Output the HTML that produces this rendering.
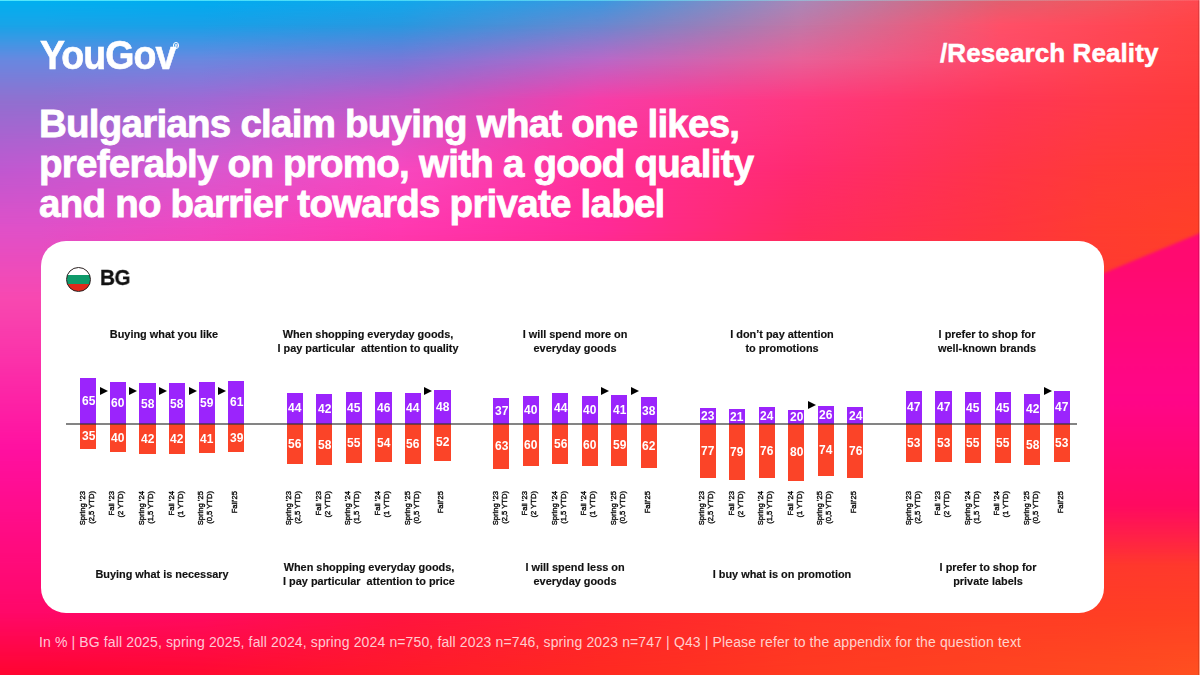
<!DOCTYPE html>
<html><head><meta charset="utf-8">
<style>
html,body{margin:0;padding:0;}
body{width:1200px;height:675px;overflow:hidden;position:relative;font-family:"Liberation Sans",sans-serif;-webkit-font-smoothing:antialiased;}
.tt,.bt,.lab,#bgt,.bp span,.br span{will-change:transform;}
#bg{position:absolute;left:0;top:0;width:1200px;height:675px;}
.bgr{position:absolute;left:0;top:0;width:1200px;height:675px;}
#mag{position:absolute;left:1080px;top:200px;width:130px;height:380px;filter:blur(1.5px);}
#magi{position:absolute;left:0;top:0;width:130px;height:380px;clip-path:polygon(0 83px,130px 28.8px,130px 380px,0 380px);
background:linear-gradient(180deg,#ff0a70 70px,#ff0588 200px,#ff0a60 305px,rgba(255,40,56,0) 365px);}
#edgeR{position:absolute;left:1198px;top:0;width:1px;height:675px;background:rgba(0,0,0,0.12);}
#edgeR:after{content:'';position:absolute;left:1px;top:0;width:1px;height:675px;background:rgba(255,255,255,0.45);}
#edgeT{position:absolute;left:0;top:0;width:1200px;height:1px;background:linear-gradient(90deg,rgba(120,255,255,0.7),rgba(120,255,255,0.5) 50%,rgba(255,255,255,0.1));}
.abs{position:absolute;}
#logo{position:absolute;left:39.5px;top:31px;font-size:41px;font-weight:bold;color:#fff;letter-spacing:-1px;line-height:48px;transform-origin:0 0;transform:scaleX(0.915);-webkit-text-stroke:0.6px #fff;white-space:nowrap;}
#reg{position:absolute;left:172.8px;top:42.3px;width:4.4px;height:4.4px;border:0.8px solid #fff;border-radius:50%;}
#reg:after{content:'R';position:absolute;left:0;top:0;width:5px;line-height:5px;font-size:4px;font-weight:bold;color:#fff;text-align:center;}
#rr{position:absolute;left:940px;top:38px;font-size:26px;font-weight:bold;color:#fff;line-height:30px;letter-spacing:0.1px;white-space:nowrap;-webkit-text-stroke:0.5px #fff;}
#title{position:absolute;left:39px;top:104px;font-size:38.5px;font-weight:bold;color:#fff;line-height:40.2px;white-space:nowrap;letter-spacing:-0.75px;-webkit-text-stroke:0.8px #fff;}
#card{position:absolute;left:40.5px;top:241.2px;width:1063.3px;height:372.3px;background:#fff;border-radius:25px;}
#flag{position:absolute;left:65.5px;top:266.8px;width:25.5px;height:25.5px;border-radius:50%;overflow:hidden;border:0.9px solid #2a2020;box-sizing:border-box;
background:linear-gradient(#fff 0%,#fff 30%,#0e9a6a 30%,#0e9a6a 69.5%,#e0281a 69.5%,#e0281a 100%);}
#bgt{position:absolute;left:99.5px;top:265.2px;font-size:22.5px;font-weight:bold;color:#111;line-height:26px;letter-spacing:-0.6px;transform-origin:0 0;transform:scaleX(0.92);-webkit-text-stroke:0.3px #111;}
#zero{position:absolute;left:66px;top:423.3px;width:1011px;height:1.4px;background:rgba(50,50,50,0.6);z-index:3;}
.bp,.br{position:absolute;width:16.2px;display:flex;align-items:center;justify-content:center;}
.bp{background:#9b24fc;}
.br{background:#fb4428;}
.bp span,.br span{color:#fff;font-weight:bold;font-size:12px;line-height:12px;}
.lab{position:absolute;width:60px;text-align:right;white-space:nowrap;transform-origin:0 0;transform:rotate(-90deg);font-size:7.6px;line-height:8.6px;color:#000;-webkit-text-stroke:0.3px #000;}
.tt,.bt{position:absolute;width:220px;text-align:center;font-size:10.9px;font-weight:bold;color:#111;line-height:13.5px;white-space:nowrap;-webkit-text-stroke:0.15px #111;}
.ar{position:absolute;width:0;height:0;border-top:4px solid transparent;border-bottom:4px solid transparent;border-left:8px solid #000;}
#foot{position:absolute;left:39px;top:630px;font-size:14px;color:rgba(255,255,255,0.78);line-height:24px;white-space:nowrap;letter-spacing:0.13px;}
</style></head><body>
<div id="bg"><div class="bgr" style="background:linear-gradient(90deg,#00b0f0 0.00%,#00b0f0 3.33%,#00acf0 16.67%,#10a8ec 33.33%,#3a98e0 50.00%,#a888b8 66.67%,#e06070 83.33%,#f05860 91.67%,#ff4850 100.00%)"></div><div class="bgr" style="background:linear-gradient(90deg,#18a4e8 0.00%,#18a4e8 3.33%,#18a0e8 16.67%,#2898e0 33.33%,#6888d0 50.00%,#c078a8 66.67%,#ff5068 83.33%,#ff4858 91.67%,#ff4444 100.00%);-webkit-mask-image:linear-gradient(180deg,transparent 0px,#000 25px);mask-image:linear-gradient(180deg,transparent 0px,#000 25px)"></div><div class="bgr" style="background:linear-gradient(90deg,#6888e0 0.00%,#6888e0 3.33%,#6a88e0 16.67%,#7878d8 33.33%,#b868c8 50.00%,#e86098 66.67%,#ff4868 83.33%,#ff4450 91.67%,#ff4040 100.00%);-webkit-mask-image:linear-gradient(180deg,transparent 25px,#000 60px);mask-image:linear-gradient(180deg,transparent 25px,#000 60px)"></div><div class="bgr" style="background:linear-gradient(90deg,#9070d0 0.00%,#9070d0 3.33%,#a068d4 16.67%,#c058c8 33.33%,#f83ca8 50.00%,#ff3880 66.67%,#ff3658 83.33%,#ff3a48 91.67%,#ff3a3a 100.00%);-webkit-mask-image:linear-gradient(180deg,transparent 60px,#000 100px);mask-image:linear-gradient(180deg,transparent 60px,#000 100px)"></div><div class="bgr" style="background:linear-gradient(90deg,#c058d0 0.00%,#c458d0 3.33%,#d858d0 16.67%,#f848c0 33.33%,#ff3098 50.00%,#ff2a70 66.67%,#ff3448 83.33%,#ff3a38 91.67%,#ff3c30 100.00%);-webkit-mask-image:linear-gradient(180deg,transparent 100px,#000 170px);mask-image:linear-gradient(180deg,transparent 100px,#000 170px)"></div><div class="bgr" style="background:linear-gradient(90deg,#e050c8 0.00%,#e050c8 3.33%,#f048c0 16.67%,#ff38b0 33.33%,#ff2a98 50.00%,#ff2a60 66.67%,#ff3440 83.33%,#ff3c30 91.67%,#ff4028 100.00%);-webkit-mask-image:linear-gradient(180deg,transparent 170px,#000 230px);mask-image:linear-gradient(180deg,transparent 170px,#000 230px)"></div><div class="bgr" style="background:linear-gradient(90deg,#f848b0 0.00%,#f848b0 3.33%,#ff38a8 16.67%,#ff2a90 33.33%,#ff2a70 50.00%,#ff3050 66.67%,#ff3a30 83.33%,#ff3a30 91.67%,#ff3a30 100.00%);-webkit-mask-image:linear-gradient(180deg,transparent 230px,#000 300px);mask-image:linear-gradient(180deg,transparent 230px,#000 300px)"></div><div class="bgr" style="background:linear-gradient(90deg,#ff10a0 0.00%,#ff10a0 3.33%,#ff10a0 16.67%,#ff2a70 33.33%,#ff3050 50.00%,#ff3040 66.67%,#ff2a40 83.33%,#ff2a40 91.67%,#ff2a40 100.00%);-webkit-mask-image:linear-gradient(180deg,transparent 300px,#000 450px);mask-image:linear-gradient(180deg,transparent 300px,#000 450px)"></div><div class="bgr" style="background:linear-gradient(90deg,#ff0868 0.00%,#ff0868 3.33%,#ff0a60 16.67%,#ff1440 33.33%,#ff2430 50.00%,#ff3428 66.67%,#ff3c26 83.33%,#ff3e24 91.67%,#ff4024 100.00%);-webkit-mask-image:linear-gradient(180deg,transparent 450px,#000 613px);mask-image:linear-gradient(180deg,transparent 450px,#000 613px)"></div><div class="bgr" style="background:linear-gradient(90deg,#ff0530 0.00%,#ff0530 3.33%,#ff0a30 16.67%,#ff1a28 33.33%,#ff2a20 50.00%,#ff3a20 66.67%,#ff4420 83.33%,#ff4a20 91.67%,#ff5020 100.00%);-webkit-mask-image:linear-gradient(180deg,transparent 613px,#000 675px);mask-image:linear-gradient(180deg,transparent 613px,#000 675px)"></div><div id="mag"><div id="magi"></div></div><div id="edgeR"></div><div id="edgeT"></div></div>
<div id="logo">YouGov</div>
<div id="reg"></div>
<div id="rr">/Research Reality</div>
<div id="title">Bulgarians claim buying what one likes,<br>preferably on promo, with a good quality<br>and no barrier towards private label</div>
<div id="card"></div>
<div id="flag"></div>
<div id="bgt">BG</div>
<div class="bp" style="left:80.3px;top:378.0px;height:46.0px"><span>65</span></div>
<div class="br" style="left:80.3px;top:424px;height:24.7px"><span>35</span></div>
<div class="lab" style="left:78.9px;top:551.0px;height:17.2px">Spring ’23<br>(2,5 YTD)</div>
<div class="bp" style="left:109.8px;top:381.6px;height:42.4px"><span>60</span></div>
<div class="br" style="left:109.8px;top:424px;height:28.3px"><span>40</span></div>
<div class="lab" style="left:108.4px;top:551.0px;height:17.2px">Fall ’23<br>(2 YTD)</div>
<div class="bp" style="left:139.4px;top:383.0px;height:41.0px"><span>58</span></div>
<div class="br" style="left:139.4px;top:424px;height:29.7px"><span>42</span></div>
<div class="lab" style="left:138.0px;top:551.0px;height:17.2px">Spring ’24<br>(1,5 YTD)</div>
<div class="bp" style="left:168.9px;top:383.0px;height:41.0px"><span>58</span></div>
<div class="br" style="left:168.9px;top:424px;height:29.7px"><span>42</span></div>
<div class="lab" style="left:167.5px;top:551.0px;height:17.2px">Fall ’24<br>(1 YTD)</div>
<div class="bp" style="left:198.5px;top:382.3px;height:41.7px"><span>59</span></div>
<div class="br" style="left:198.5px;top:424px;height:29.0px"><span>41</span></div>
<div class="lab" style="left:197.1px;top:551.0px;height:17.2px">Spring ’25<br>(0,5 YTD)</div>
<div class="bp" style="left:228.1px;top:380.9px;height:43.1px"><span>61</span></div>
<div class="br" style="left:228.1px;top:424px;height:27.6px"><span>39</span></div>
<div class="lab" style="left:230.9px;top:551.0px;height:8.6px">Fall’25</div>
<div class="tt" style="left:53.9px;top:327.7px">Buying what you like</div>
<div class="bt" style="left:52.3px;top:568px">Buying what is necessary</div>
<div class="bp" style="left:286.7px;top:392.9px;height:31.1px"><span>44</span></div>
<div class="br" style="left:286.7px;top:424px;height:39.6px"><span>56</span></div>
<div class="lab" style="left:285.3px;top:551.0px;height:17.2px">Spring ’23<br>(2,5 YTD)</div>
<div class="bp" style="left:316.2px;top:394.3px;height:29.7px"><span>42</span></div>
<div class="br" style="left:316.2px;top:424px;height:41.0px"><span>58</span></div>
<div class="lab" style="left:314.9px;top:551.0px;height:17.2px">Fall ’23<br>(2 YTD)</div>
<div class="bp" style="left:345.8px;top:392.2px;height:31.8px"><span>45</span></div>
<div class="br" style="left:345.8px;top:424px;height:38.9px"><span>55</span></div>
<div class="lab" style="left:344.4px;top:551.0px;height:17.2px">Spring ’24<br>(1,5 YTD)</div>
<div class="bp" style="left:375.4px;top:391.5px;height:32.5px"><span>46</span></div>
<div class="br" style="left:375.4px;top:424px;height:38.2px"><span>54</span></div>
<div class="lab" style="left:374.0px;top:551.0px;height:17.2px">Fall ’24<br>(1 YTD)</div>
<div class="bp" style="left:404.9px;top:392.9px;height:31.1px"><span>44</span></div>
<div class="br" style="left:404.9px;top:424px;height:39.6px"><span>56</span></div>
<div class="lab" style="left:403.5px;top:551.0px;height:17.2px">Spring ’25<br>(0,5 YTD)</div>
<div class="bp" style="left:434.4px;top:390.1px;height:33.9px"><span>48</span></div>
<div class="br" style="left:434.4px;top:424px;height:36.8px"><span>52</span></div>
<div class="lab" style="left:437.4px;top:551.0px;height:8.6px">Fall’25</div>
<div class="tt" style="left:258.4px;top:327.7px">When shopping everyday goods,<br>I pay particular&nbsp; attention to quality</div>
<div class="bt" style="left:258.7px;top:561px">When shopping everyday goods,<br>I pay particular&nbsp; attention to price</div>
<div class="bp" style="left:493.1px;top:397.8px;height:26.2px"><span>37</span></div>
<div class="br" style="left:493.1px;top:424px;height:44.5px"><span>63</span></div>
<div class="lab" style="left:491.7px;top:551.0px;height:17.2px">Spring ’23<br>(2,5 YTD)</div>
<div class="bp" style="left:522.6px;top:395.7px;height:28.3px"><span>40</span></div>
<div class="br" style="left:522.6px;top:424px;height:42.4px"><span>60</span></div>
<div class="lab" style="left:521.2px;top:551.0px;height:17.2px">Fall ’23<br>(2 YTD)</div>
<div class="bp" style="left:552.2px;top:392.9px;height:31.1px"><span>44</span></div>
<div class="br" style="left:552.2px;top:424px;height:39.6px"><span>56</span></div>
<div class="lab" style="left:550.8px;top:551.0px;height:17.2px">Spring ’24<br>(1,5 YTD)</div>
<div class="bp" style="left:581.8px;top:395.7px;height:28.3px"><span>40</span></div>
<div class="br" style="left:581.8px;top:424px;height:42.4px"><span>60</span></div>
<div class="lab" style="left:580.4px;top:551.0px;height:17.2px">Fall ’24<br>(1 YTD)</div>
<div class="bp" style="left:611.3px;top:395.0px;height:29.0px"><span>41</span></div>
<div class="br" style="left:611.3px;top:424px;height:41.7px"><span>59</span></div>
<div class="lab" style="left:609.9px;top:551.0px;height:17.2px">Spring ’25<br>(0,5 YTD)</div>
<div class="bp" style="left:640.9px;top:397.1px;height:26.9px"><span>38</span></div>
<div class="br" style="left:640.9px;top:424px;height:43.8px"><span>62</span></div>
<div class="lab" style="left:643.8px;top:551.0px;height:8.6px">Fall’25</div>
<div class="tt" style="left:465.4px;top:327.7px">I will spend more on<br>everyday goods</div>
<div class="bt" style="left:465.1px;top:561px">I will spend less on<br>everyday goods</div>
<div class="bp" style="left:699.5px;top:407.7px;height:16.3px"><span>23</span></div>
<div class="br" style="left:699.5px;top:424px;height:54.4px"><span>77</span></div>
<div class="lab" style="left:698.1px;top:551.0px;height:17.2px">Spring ’23<br>(2,5 YTD)</div>
<div class="bp" style="left:729.0px;top:409.2px;height:14.8px"><span>21</span></div>
<div class="br" style="left:729.0px;top:424px;height:55.9px"><span>79</span></div>
<div class="lab" style="left:727.6px;top:551.0px;height:17.2px">Fall ’23<br>(2 YTD)</div>
<div class="bp" style="left:758.6px;top:407.0px;height:17.0px"><span>24</span></div>
<div class="br" style="left:758.6px;top:424px;height:53.7px"><span>76</span></div>
<div class="lab" style="left:757.2px;top:551.0px;height:17.2px">Spring ’24<br>(1,5 YTD)</div>
<div class="bp" style="left:788.1px;top:409.9px;height:14.1px"><span>20</span></div>
<div class="br" style="left:788.1px;top:424px;height:56.6px"><span>80</span></div>
<div class="lab" style="left:786.8px;top:551.0px;height:17.2px">Fall ’24<br>(1 YTD)</div>
<div class="bp" style="left:817.7px;top:405.6px;height:18.4px"><span>26</span></div>
<div class="br" style="left:817.7px;top:424px;height:52.3px"><span>74</span></div>
<div class="lab" style="left:816.3px;top:551.0px;height:17.2px">Spring ’25<br>(0,5 YTD)</div>
<div class="bp" style="left:847.2px;top:407.0px;height:17.0px"><span>24</span></div>
<div class="br" style="left:847.2px;top:424px;height:53.7px"><span>76</span></div>
<div class="lab" style="left:850.2px;top:551.0px;height:8.6px">Fall’25</div>
<div class="tt" style="left:671.6px;top:327.7px">I don’t pay attention<br>to promotions</div>
<div class="bt" style="left:671.5px;top:568px">I buy what is on promotion</div>
<div class="bp" style="left:905.9px;top:390.8px;height:33.2px"><span>47</span></div>
<div class="br" style="left:905.9px;top:424px;height:37.5px"><span>53</span></div>
<div class="lab" style="left:904.5px;top:551.0px;height:17.2px">Spring ’23<br>(2,5 YTD)</div>
<div class="bp" style="left:935.4px;top:390.8px;height:33.2px"><span>47</span></div>
<div class="br" style="left:935.4px;top:424px;height:37.5px"><span>53</span></div>
<div class="lab" style="left:934.0px;top:551.0px;height:17.2px">Fall ’23<br>(2 YTD)</div>
<div class="bp" style="left:965.0px;top:392.2px;height:31.8px"><span>45</span></div>
<div class="br" style="left:965.0px;top:424px;height:38.9px"><span>55</span></div>
<div class="lab" style="left:963.6px;top:551.0px;height:17.2px">Spring ’24<br>(1,5 YTD)</div>
<div class="bp" style="left:994.5px;top:392.2px;height:31.8px"><span>45</span></div>
<div class="br" style="left:994.5px;top:424px;height:38.9px"><span>55</span></div>
<div class="lab" style="left:993.1px;top:551.0px;height:17.2px">Fall ’24<br>(1 YTD)</div>
<div class="bp" style="left:1024.1px;top:394.3px;height:29.7px"><span>42</span></div>
<div class="br" style="left:1024.1px;top:424px;height:41.0px"><span>58</span></div>
<div class="lab" style="left:1022.7px;top:551.0px;height:17.2px">Spring ’25<br>(0,5 YTD)</div>
<div class="bp" style="left:1053.7px;top:390.8px;height:33.2px"><span>47</span></div>
<div class="br" style="left:1053.7px;top:424px;height:37.5px"><span>53</span></div>
<div class="lab" style="left:1056.5px;top:551.0px;height:8.6px">Fall’25</div>
<div class="tt" style="left:876.6px;top:327.7px">I prefer to shop for<br>well-known brands</div>
<div class="bt" style="left:877.9px;top:561px">I prefer to shop for<br>private labels</div>
<div class="ar" style="left:99.8px;top:387.0px"></div>
<div class="ar" style="left:129.4px;top:387.0px"></div>
<div class="ar" style="left:158.9px;top:387.0px"></div>
<div class="ar" style="left:188.5px;top:387.0px"></div>
<div class="ar" style="left:218.1px;top:387.0px"></div>
<div class="ar" style="left:424.4px;top:387.0px"></div>
<div class="ar" style="left:601.3px;top:387.0px"></div>
<div class="ar" style="left:630.9px;top:387.0px"></div>
<div class="ar" style="left:807.7px;top:401.0px"></div>
<div class="ar" style="left:1043.7px;top:386.5px"></div>
<div id="zero"></div>
<div id="foot">In % | BG fall 2025, spring 2025, fall 2024, spring 2024 n=750, fall 2023 n=746, spring 2023 n=747 | Q43 | Please refer to the appendix for the question text</div>
</body></html>
